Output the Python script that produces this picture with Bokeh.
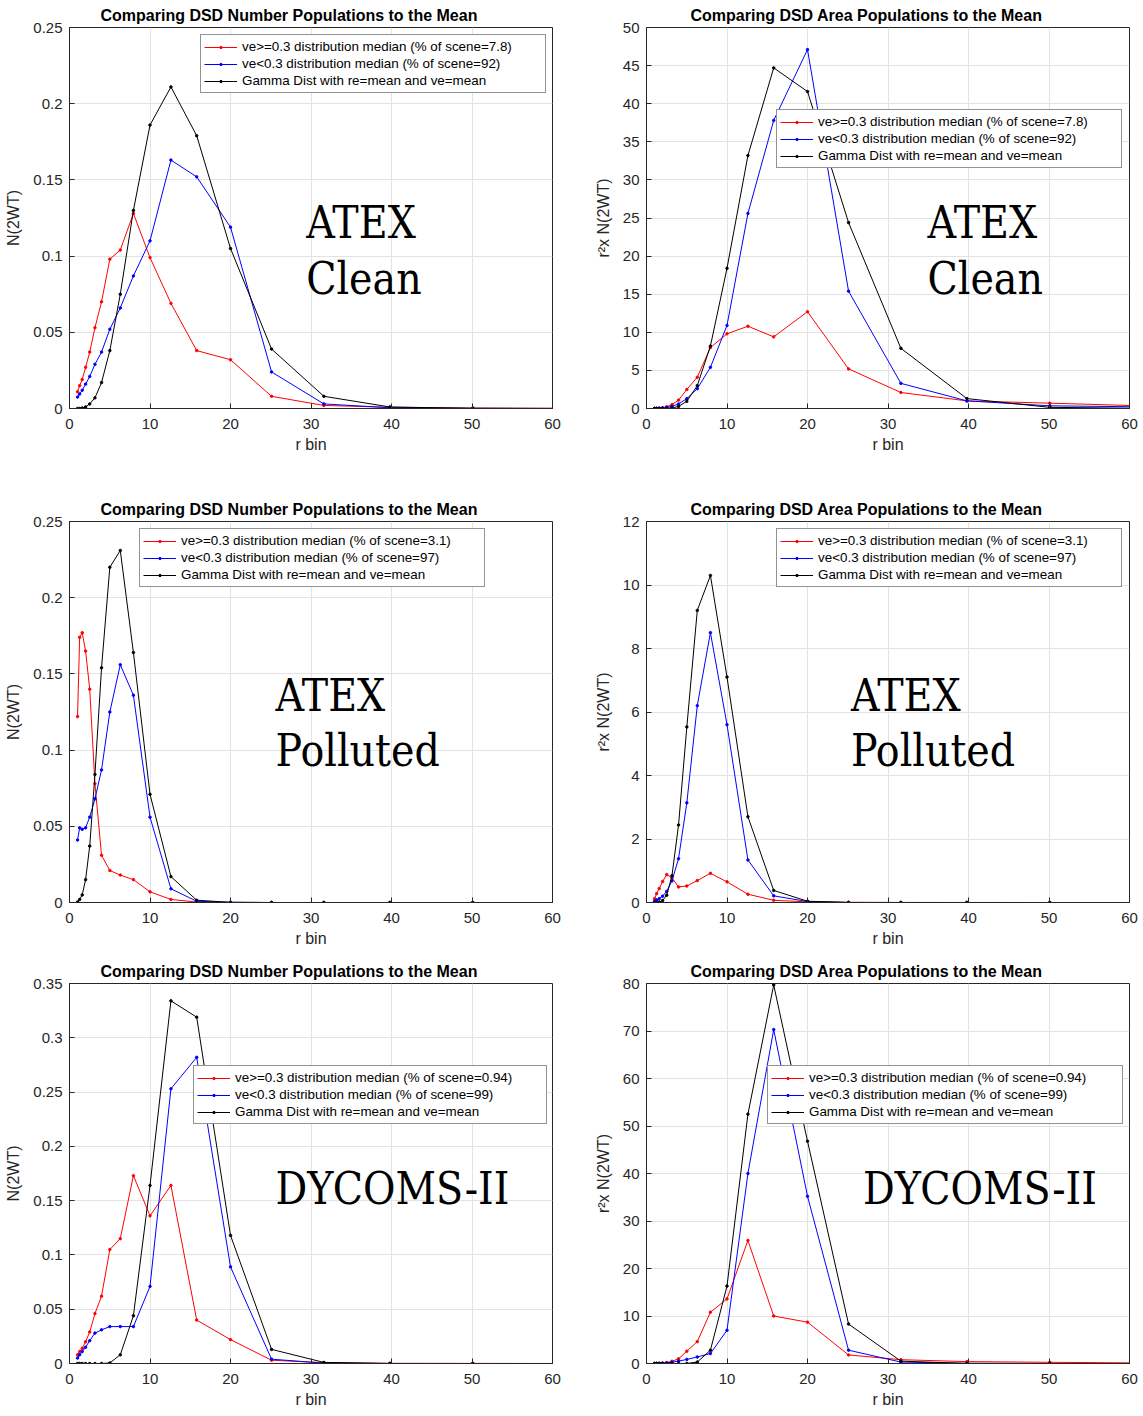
from bokeh.plotting import figure
from bokeh.layouts import column, row
from bokeh.models import FixedTicker, CustomJSTickFormatter, Legend, LegendItem, Label, Range1d
from bokeh.embed import file_html
from bokeh.resources import INLINE

# ---------------- data ----------------
r_bin = [1.0, 1.26, 1.58, 2.0, 2.51, 3.16, 3.98, 5.01, 6.31, 7.94, 10.0, 12.6, 15.8, 20.0, 25.1, 31.6, 39.8, 50.1, 63.1]
x_ticks = [0, 10, 20, 30, 40, 50, 60]

# ATEX clean - number
atex_clean_num_red = [0.011, 0.015, 0.019, 0.027, 0.037, 0.053, 0.070, 0.098, 0.104, 0.128, 0.099, 0.069, 0.038, 0.032, 0.008, 0.002, 0.0008, 0.0003, 0.0001]
atex_clean_num_blue = [0.0075, 0.0095, 0.012, 0.016, 0.021, 0.029, 0.037, 0.052, 0.066, 0.087, 0.110, 0.163, 0.152, 0.119, 0.024, 0.003, 0.0005, 0.0001, 0.0]
atex_clean_num_black = [0.0, 0.0, 0.0003, 0.001, 0.003, 0.007, 0.017, 0.038, 0.075, 0.130, 0.186, 0.211, 0.179, 0.105, 0.039, 0.008, 0.001, 0.0001, 0.0]
# ATEX clean - area
atex_clean_area_red = [0.01, 0.02, 0.05, 0.1, 0.23, 0.5, 1.1, 2.5, 4.1, 8.0, 9.8, 10.8, 9.4, 12.7, 5.2, 2.1, 1.0, 0.7, 0.3]
atex_clean_area_blue = [0.008, 0.015, 0.03, 0.06, 0.13, 0.29, 0.6, 1.3, 2.6, 5.4, 10.9, 25.6, 37.8, 47.1, 15.4, 3.3, 1.0, 0.35, 0.2]
atex_clean_area_black = [0.0, 0.0, 0.001, 0.004, 0.02, 0.07, 0.27, 0.95, 3.0, 8.2, 18.4, 33.2, 44.7, 41.6, 24.4, 7.9, 1.3, 0.15, 0.01]
# ATEX polluted - number
atex_poll_num_red = [0.122, 0.174, 0.177, 0.165, 0.140, 0.078, 0.031, 0.021, 0.018, 0.015, 0.007, 0.002, 0.0003, 0.0001, 0.0, 0.0, 0.0, 0.0, 0.0]
atex_poll_num_blue = [0.041, 0.049, 0.048, 0.049, 0.056, 0.068, 0.087, 0.125, 0.156, 0.136, 0.056, 0.009, 0.0008, 0.0001, 0.0, 0.0, 0.0, 0.0, 0.0]
atex_poll_num_black = [0.0003, 0.002, 0.005, 0.015, 0.037, 0.084, 0.154, 0.220, 0.231, 0.164, 0.071, 0.017, 0.0015, 0.0001, 0.0, 0.0, 0.0, 0.0, 0.0]
# ATEX polluted - area
atex_poll_area_red = [0.12, 0.28, 0.44, 0.66, 0.88, 0.78, 0.49, 0.52, 0.69, 0.92, 0.65, 0.26, 0.07, 0.02, 0.005, 0.002, 0.001, 0.0, 0.0]
atex_poll_area_blue = [0.04, 0.08, 0.12, 0.2, 0.35, 0.68, 1.38, 3.14, 6.2, 8.5, 5.6, 1.34, 0.21, 0.03, 0.0, 0.0, 0.0, 0.0, 0.0]
atex_poll_area_black = [0.0003, 0.003, 0.013, 0.06, 0.23, 0.84, 2.44, 5.53, 9.2, 10.3, 7.1, 2.7, 0.38, 0.04, 0.002, 0.0, 0.0, 0.0, 0.0]
# DYCOMS-II - number
dycoms_num_red = [0.008, 0.011, 0.014, 0.020, 0.029, 0.046, 0.062, 0.105, 0.115, 0.173, 0.136, 0.164, 0.040, 0.022, 0.003, 0.0008, 0.0002, 0.0001, 0.0]
dycoms_num_blue = [0.005, 0.008, 0.011, 0.015, 0.021, 0.028, 0.031, 0.034, 0.034, 0.034, 0.071, 0.253, 0.282, 0.089, 0.004, 0.0003, 0.0, 0.0, 0.0]
dycoms_num_black = [0.0, 0.0, 0.0, 0.0, 0.0, 0.0, 0.0, 0.0005, 0.008, 0.044, 0.164, 0.334, 0.319, 0.118, 0.013, 0.001, 0.0, 0.0, 0.0]
# DYCOMS-II - area
dycoms_area_red = [0.008, 0.017, 0.035, 0.08, 0.18, 0.46, 0.98, 2.6, 4.6, 10.8, 13.6, 25.9, 10.0, 8.7, 1.8, 0.8, 0.4, 0.25, 0.1]
dycoms_area_blue = [0.005, 0.013, 0.028, 0.06, 0.13, 0.28, 0.5, 0.86, 1.37, 2.1, 7.0, 40.0, 70.3, 35.2, 2.8, 0.3, 0.05, 0.0, 0.0]
dycoms_area_black = [0.0, 0.0, 0.0, 0.0, 0.0, 0.0, 0.0, 0.012, 0.3, 2.8, 16.3, 52.5, 79.7, 46.8, 8.3, 0.5, 0.01, 0.0, 0.0]

num_ticks_025 = [0, 0.05, 0.1, 0.15, 0.2, 0.25]
num_ticks_035 = [0, 0.05, 0.1, 0.15, 0.2, 0.25, 0.3, 0.35]
area_ticks_50 = [0, 5, 10, 15, 20, 25, 30, 35, 40, 45, 50]
area_ticks_12 = [0, 2, 4, 6, 8, 10, 12]
area_ticks_80 = [0, 10, 20, 30, 40, 50, 60, 70, 80]

title_num = "Comparing DSD Number Populations to the Mean"
title_area = "Comparing DSD Area Populations to the Mean"
ylabel_num = "N(2WT)"
ylabel_area = "r\u00b2x N(2WT)"
xlabel = "r bin"
gamma_label = "Gamma Dist with re=mean and ve=mean"

FONT = "Liberation Sans"
SERIF = "'DejaVu Serif Condensed', 'DejaVu Serif', serif"
AXC = "#262626"


def make_panel(title, ylabel, yticks, red, blue, black, pct_red, pct_blue,
               legend_xy, label_w, annot, left_col, bottom_border, frame_h):
    ymax = yticks[-1]
    p = figure(
        frame_width=483, frame_height=frame_h,
        x_range=Range1d(0, 60), y_range=Range1d(0, ymax),
        output_backend="svg", toolbar_location=None,
        min_border_left=69,
        min_border_right=25 if left_col else 11,
        min_border_top=27, min_border_bottom=bottom_border,
    )
    p.title.text = title
    p.title.text_font = FONT
    p.title.text_font_size = "16px"
    p.title.text_font_style = "bold"
    p.title.text_color = "black"
    p.title.align = "left"
    p.title.offset = 31 if left_col else 44
    p.title.standoff = 7

    p.xaxis.ticker = FixedTicker(ticks=x_ticks)
    p.yaxis.ticker = FixedTicker(ticks=yticks)
    p.yaxis.formatter = CustomJSTickFormatter(code="return String(tick)")
    p.xaxis.formatter = CustomJSTickFormatter(code="return String(tick)")
    for ax in (p.xaxis, p.yaxis):
        ax.axis_line_color = AXC
        ax.major_tick_line_color = AXC
        ax.major_tick_in = 5
        ax.major_tick_out = 0
        ax.minor_tick_line_color = None
        ax.major_label_text_font = FONT
        ax.major_label_text_font_size = "15px"
        ax.major_label_text_color = AXC
        ax.axis_label_text_font = FONT
        ax.axis_label_text_font_size = "16px"
        ax.axis_label_text_font_style = "normal"
        ax.axis_label_text_color = AXC
    p.xaxis.axis_label = xlabel
    p.yaxis.axis_label = ylabel
    p.xaxis.major_label_standoff = 10
    p.xaxis.axis_label_standoff = 4
    p.yaxis.major_label_standoff = 7
    p.yaxis.axis_label_standoff = 8

    p.outline_line_color = AXC
    p.outline_line_width = 1
    p.grid.grid_line_color = "#e3e3e3"
    p.grid.grid_line_width = 1

    items = []
    for ys, col, lab in ((red, "#ff0000", "ve>=0.3 distribution median (% of scene=" + pct_red + ")"),
                         (blue, "#0000ff", "ve<0.3 distribution median (% of scene=" + pct_blue + ")"),
                         (black, "#000000", gamma_label)):
        l = p.line(r_bin, ys, line_color=col, line_width=1)
        s = p.scatter(r_bin, ys, size=2.5, color=col)
        items.append(LegendItem(label=lab, renderers=[l, s]))
    legend = Legend(items=items, location=legend_xy,
                    label_text_font=FONT, label_text_font_size="13.4px",
                    label_text_color="black", label_height=17, glyph_height=6,
                    glyph_width=33, label_standoff=5, label_width=label_w,
                    spacing=0, padding=3,
                    margin=0, border_line_color=AXC, border_line_width=1,
                    background_fill_color="white", background_fill_alpha=1.0)
    p.add_layout(legend)

    for (tx, ty, txt) in annot:
        p.add_layout(Label(x=tx, y=ty, text=txt, text_font=SERIF,
                           text_font_size="44px", text_color="black",
                           text_baseline="alphabetic", text_align="left"))
    return p


p1 = make_panel(title_num, ylabel_num, num_ticks_025, atex_clean_num_red, atex_clean_num_blue,
                atex_clean_num_black, "7.8", "92", (131, 315), 300,
                [(29.4, 0.122, "ATEX"), (29.4, 0.0853, "Clean")], True, 86, 381)
p2 = make_panel(title_area, ylabel_area, area_ticks_50, atex_clean_area_red, atex_clean_area_blue,
                atex_clean_area_black, "7.8", "92", (130, 240), 300,
                [(34.9, 24.4, "ATEX"), (34.9, 17.06, "Clean")], False, 86, 381)
p3 = make_panel(title_num, ylabel_num, num_ticks_025, atex_poll_num_red, atex_poll_num_blue,
                atex_poll_num_black, "3.1", "97", (70, 315), 300,
                [(25.6, 0.1358, "ATEX"), (25.6, 0.0997, "Polluted")], True, 54, 381)
p4 = make_panel(title_area, ylabel_area, area_ticks_12, atex_poll_area_red, atex_poll_area_blue,
                atex_poll_area_black, "3.1", "97", (130, 315), 300,
                [(25.4, 6.52, "ATEX"), (25.4, 4.79, "Polluted")], False, 54, 381)
p5 = make_panel(title_num, ylabel_num, num_ticks_035, dycoms_num_red, dycoms_num_blue,
                dycoms_num_black, "0.94", "99", (124, 239), 308,
                [(25.6, 0.161, "DYCOMS-II")], True, 50, 380)
p6 = make_panel(title_area, ylabel_area, area_ticks_80, dycoms_area_red, dycoms_area_blue,
                dycoms_area_black, "0.94", "99", (121, 239), 310,
                [(26.9, 36.8, "DYCOMS-II")], False, 50, 380)

layout = column(row(p1, p2), row(p3, p4), row(p5, p6))
open("out.html", "w").write(file_html(layout, INLINE))
